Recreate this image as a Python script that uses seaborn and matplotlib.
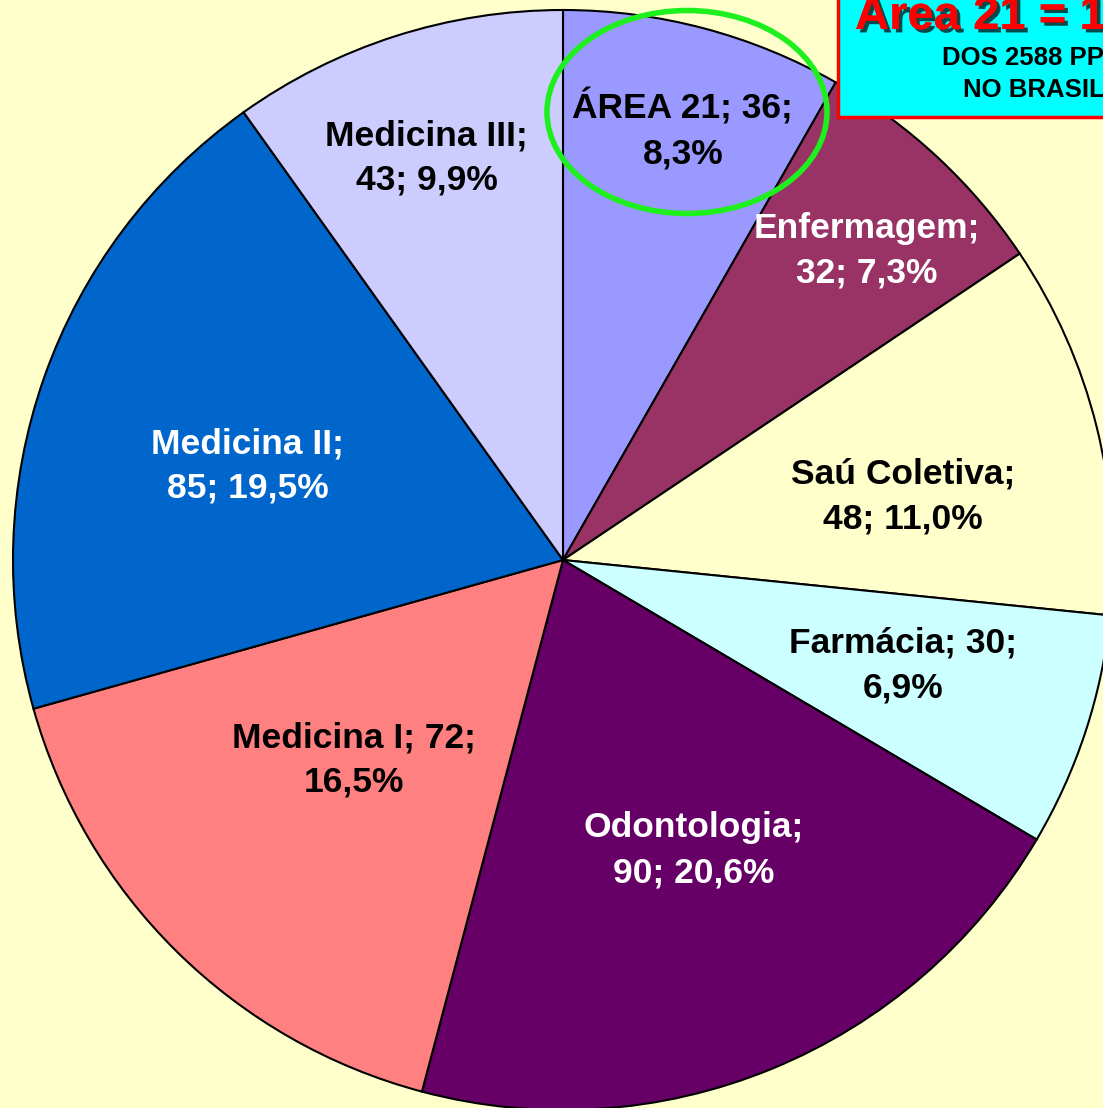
import matplotlib
matplotlib.use("Agg")
import numpy as np
import matplotlib.pyplot as plt
import matplotlib.patheffects as pe
from matplotlib.patches import Ellipse, Rectangle
import seaborn as sns

# Data (clockwise from 12 o'clock)
areas = ["ÁREA 21", "Enfermagem", "Saú Coletiva", "Farmácia",
         "Odontologia", "Medicina I", "Medicina II", "Medicina III"]
programas = [36, 32, 48, 30, 90, 72, 85, 43]
colors = ["#9999FF", "#993366", "#FFFFCC", "#CCFFFF",
          "#660066", "#FF8080", "#0066CC", "#CCCCFF"]
text_colors = ["black", "white", "black", "black",
               "white", "black", "white", "black"]
# where the line break goes in each label
break_after = ["value", "name", "name", "value", "name", "value", "name", "name"]
# label placement: distance from centre (radius units) and angle nudge (deg)
label_dist = [0.812, 0.788, 0.629, 0.648, 0.579, 0.526, 0.598, 0.772]
label_nudge = [-0.7, -1.6, -3.5, 0.9, 2.0, -1.7, 2.8, 1.0]

box_title = "Area 21 = 1,4%"
box_line1 = "DOS 2588 PPG"
box_line2 = "NO BRASIL"

sns.set_theme(style="white")
plt.rcParams['font.family'] = ['Liberation Sans', 'DejaVu Sans']

bg = "#FFFFCC"
fig = plt.figure(figsize=(11.03, 11.08), dpi=100, facecolor=bg)
ax = fig.add_axes([0, 0, 1, 1])
ax.set_facecolor(bg)

r_px = 550.0
cx, cy = 563.0, 560.0

wedges, _ = ax.pie(programas, colors=colors, startangle=90, counterclock=False,
                   wedgeprops=dict(edgecolor="black", linewidth=1.5))

total = sum(programas)
for w, name, v, tc, br, d, nd in zip(wedges, areas, programas, text_colors,
                                     break_after, label_dist, label_nudge):
    pct = f"{v / total * 100:.1f}".replace(".", ",")
    if br == "name":
        txt = f"{name};\n{v}; {pct}%"
    else:
        txt = f"{name}; {v};\n{pct}%"
    a = np.deg2rad((w.theta1 + w.theta2) / 2 + nd)
    ax.text(d * np.cos(a), d * np.sin(a), txt, ha="center", va="center",
            color=tc, fontsize=25.5, fontweight="bold", linespacing=1.45)

# green highlight ellipse around ÁREA 21
ax.add_patch(Ellipse(((687 - cx) / r_px, (cy - 112) / r_px), 280 / r_px, 203 / r_px,
                     fill=False, edgecolor="#1EF01E", linewidth=4, zorder=5))

ax.set_xlim(-cx / r_px, (1103 - cx) / r_px)
ax.set_ylim(-(1108 - cy) / r_px, cy / r_px)
ax.set_aspect("auto")
ax.axis("off")

# info box in the top right corner
fig.patches.append(Rectangle((838 / 1103, 1 - 117 / 1108), 0.4, 0.2,
                             transform=fig.transFigure, facecolor="#00FFFF",
                             edgecolor="#FF0000", linewidth=2.5, zorder=6))
fig.text(855 / 1103, 1 - 29 / 1108, box_title, color="#FF0000", fontsize=34,
         fontweight="bold", ha="left", va="baseline", zorder=7,
         path_effects=[pe.withSimplePatchShadow(offset=(2.5, -2.5), shadow_rgbFace="black", alpha=0.7),
                       pe.Normal()])
fig.text(942 / 1103, 1 - 65 / 1108, box_line1, color="black", fontsize=18.5,
         fontweight="bold", ha="left", va="baseline", zorder=7)
fig.text(963 / 1103, 1 - 97 / 1108, box_line2, color="black", fontsize=18.5,
         fontweight="bold", ha="left", va="baseline", zorder=7)

fig.savefig("out.png", dpi=100, facecolor=bg)
